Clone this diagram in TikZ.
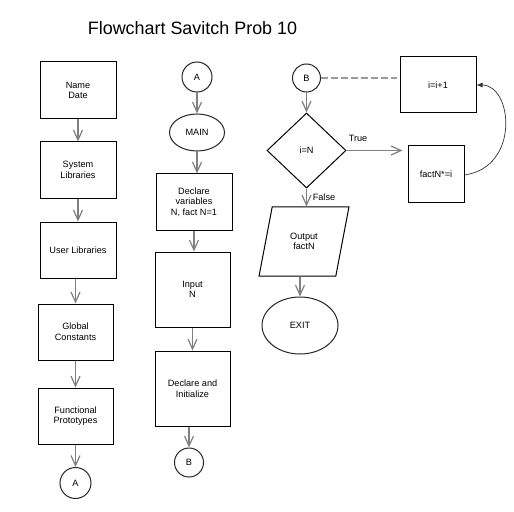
\documentclass[tikz,border=0pt]{standalone}
\usepackage{fontspec}
\setmainfont{Liberation Sans}
\usetikzlibrary{shapes.geometric,arrows.meta}
\newcommand\myfs{\fontsize{9.2}{10.6}\selectfont}
\begin{document}
\begin{tikzpicture}[x=1bp,y=-1bp,
  box/.style={draw=black, line width=1bp, inner sep=1bp, align=center, font=\myfs},
  circ/.style={draw=black!85, line width=1bp, circle, inner sep=0pt, font=\myfs},
  ell/.style={draw=black!85, line width=1bp, ellipse, inner sep=0pt, font=\myfs},
  conn/.style={draw=black!50, line width=1.6bp, -{Straight Barb[length=10bp,width=9bp,line width=1.2bp]}},
  dashlink/.style={draw=black!40, line width=1.6bp, dash pattern=on 7bp off 3bp},
  loopconn/.style={draw=black!80, line width=0.7bp, -{Latex[length=6bp,width=5bp]}},
  lbl/.style={font=\myfs, inner sep=0pt}
]
\useasboundingbox (0,0) rectangle (514,512);
\fill[white] (0,0) rectangle (514,512);

\node[font=\fontsize{18}{20}\selectfont, inner sep=0pt] (title) at (192.5,28) {Flowchart Savitch Prob 10};

% column 1
\node[box, minimum width=76bp, minimum height=57bp] (n1) at (78,90.5) {Name\\Date};
\node[box, minimum width=76bp, minimum height=56bp] (n2) at (78,170) {System\\Libraries};
\node[box, minimum width=76bp, minimum height=56bp] (n3) at (78,250) {User Libraries};
\node[box, minimum width=75bp, minimum height=56bp] (n4) at (75.5,332) {Global\\Constants};
\node[box, minimum width=75bp, minimum height=56bp] (n5) at (75.5,416) {Functional\\Prototypes};
\node[circ, minimum size=31bp] (a1) at (75.5,483) {A};

% column 2
\node[circ, minimum size=30bp] (a2) at (197,77) {A};
\node[ell, minimum width=55bp, minimum height=37bp] (main) at (197,132.5) {MAIN};
\node[box, minimum width=76bp, minimum height=56bp] (m2) at (194,202) {Declare\\variables\\N, fact N=1};
\node[box, minimum width=75bp, minimum height=75bp] (m3) at (192.5,289.5) {Input\\N};
\node[box, minimum width=75bp, minimum height=75bp] (m4) at (192.5,388.5) {Declare and\\Initialize};
\node[circ, minimum size=29bp] (b1) at (189,462.5) {B};

% column 3
\node[circ, minimum size=28bp] (b2) at (306.5,78) {B};
\node[box, minimum width=76bp, minimum height=56bp] (inc) at (438,85) {i=i+1};
\node[draw=black, line width=1bp, diamond, minimum width=79bp, minimum height=75bp, inner sep=0pt, font=\myfs] (dia) at (306.5,150.5) {i=N};
\node[box, minimum width=56bp, minimum height=56bp] (fact) at (436,174) {factN*=i};
\node[draw=black, line width=1bp, trapezium, trapezium left angle=71.6, trapezium right angle=108.4, trapezium stretches=true, minimum width=90bp, minimum height=69bp, inner sep=0pt, align=center, font=\myfs] (par) at (304,241.5) {Output\\factN};
\node[ell, minimum width=76bp, minimum height=57bp] (exit) at (300,325.5) {EXIT};

\node[lbl] (ltrue) at (358,138) {True};
\node[lbl] (lfalse) at (324,197) {False};

% connectors column 1
\draw[conn] (n1) -- (n2);
\draw[conn] (n2) -- (n3);
\draw[conn] (n4.north |- n3.south) -- (n4.north);
\draw[conn] (n4) -- (n5);
\draw[conn] (n5) -- (a1);

% connectors column 2
\draw[conn] (a2) -- (main);
\draw[conn] (main.south) -- (main.south |- m2.north);
\draw[conn] (m2.south) -- (m2.south |- m3.north);
\draw[conn] (m3) -- (m4);
\draw[conn] (b1.north |- m4.south) -- (b1.north);

% connectors column 3
\draw[dashlink, shorten >=3bp] (b2.east) -- (inc.west |- b2.east);
\draw[conn] (b2) -- (dia);
\draw[conn] (dia.east) -- ([xshift=-5bp]fact.west |- dia.east);
\draw[conn] (dia.south) -- (dia.south |- par.north);
\draw[conn] (exit.north |- par.south) -- (exit.north);
\draw[loopconn] ([yshift=-1bp]fact.east) .. controls +(56,-8) and +(36,0) .. (inc.east);
\end{tikzpicture}
\end{document}
